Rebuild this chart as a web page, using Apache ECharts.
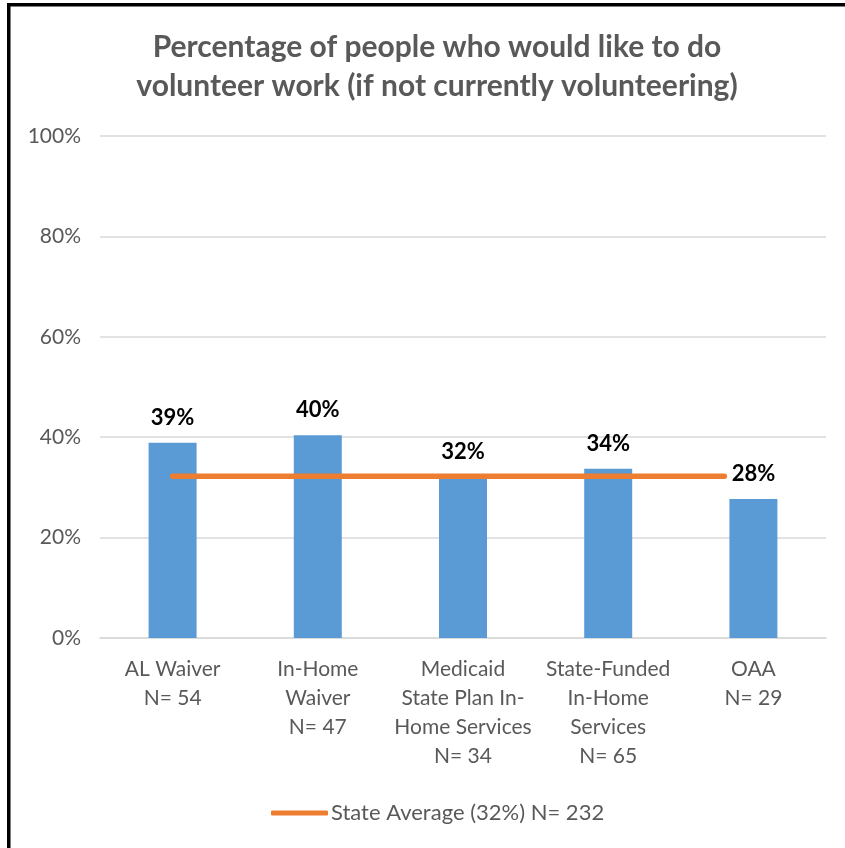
<!DOCTYPE html>
<html>
<head>
<meta charset="utf-8">
<script src="https://cdn.jsdelivr.net/npm/echarts@6/dist/echarts.min.js"></script>
<style>
html,body{margin:0;padding:0;background:#fff;}
#chart{width:845px;height:848px;}
</style>
</head>
<body>
<div id="chart"></div>
<script>
// ---- data ----
const titleText = 'Percentage of people who would like to do\nvolunteer work (if not currently volunteering)';
const categories = [
  'AL Waiver\nN= 54',
  'In-Home\nWaiver\nN= 47',
  'Medicaid\nState Plan In-\nHome Services\nN= 34',
  'State-Funded\nIn-Home\nServices\nN= 65',
  'OAA\nN= 29'
];
const pctValues = [38.9, 40.4, 32.0, 33.7, 27.7];
const stateAvgName = 'State Average (32%) N= 232';
const stateAvgValue = 32.2;
const stateAvgSpan = [0, 3.8]; // category positions where the average line starts/ends
const yTicks = [0, 20, 40, 60, 80, 100];

const FONT = 'Lato';
const GRAY = '#595959';

const chart = echarts.init(document.getElementById('chart'), null, {renderer: 'canvas'});
chart.setOption({
  animation: false,
  backgroundColor: '#fff',
  textStyle: {fontFamily: FONT},
  title: {
    text: titleText,
    left: 432,
    textAlign: 'center',
    top: 23,
    textStyle: {fontFamily: FONT, fontWeight: 'bold', fontSize: 30, lineHeight: 39, color: GRAY}
  },
  graphic: [
    {type: 'rect', shape: {x: 7, y: 3, width: 838, height: 3.5}, style: {fill: '#000'}, silent: true},
    {type: 'rect', shape: {x: 7, y: 3, width: 3.5, height: 845}, style: {fill: '#000'}, silent: true}
  ],
  legend: {
    data: [{name: stateAvgName, icon: 'roundRect'}],
    left: 266,
    top: 797,
    itemWidth: 57,
    itemHeight: 5,
    itemGap: 3,
    textStyle: {fontFamily: FONT, fontSize: 22, color: GRAY, padding: [0, 0, 0, -2]}
  },
  grid: {left: 100, right: 19, top: 136, bottom: 210, containLabel: false},
  xAxis: [
    {
      type: 'category',
      data: categories,
      axisTick: {show: false},
      axisLine: {show: true, lineStyle: {color: '#D9D9D9', width: 1.5}},
      axisLabel: {
        interval: 0, margin: 17, color: GRAY, fontFamily: FONT, fontSize: 21, lineHeight: 29, align: 'center'
      }
    },
    {
      type: 'value', min: -0.5, max: 4.5, show: false, position: 'bottom'
    }
  ],
  yAxis: {
    type: 'value', min: 0, max: 100, interval: 20,
    axisLine: {show: false}, axisTick: {show: false},
    splitLine: {lineStyle: {color: '#D9D9D9', width: 1.5}},
    axisLabel: {formatter: v => v + '%', color: GRAY, fontFamily: FONT, fontSize: 21, margin: 19}
  },
  series: [
    {
      type: 'bar',
      name: 'pct',
      data: pctValues,
      xAxisIndex: 0,
      barWidth: 48,
      itemStyle: {color: '#5B9BD5'},
      label: {
        show: true, position: 'top', distance: 14,
        formatter: p => Math.round(p.value) + '%',
        color: '#000', fontFamily: FONT, fontWeight: 'bold', fontSize: 22
      },
      z: 2
    },
    {
      type: 'line',
      name: stateAvgName,
      xAxisIndex: 1,
      data: stateAvgSpan.map(x => [x, stateAvgValue]),
      symbol: 'none',
      lineStyle: {color: '#ED7D31', width: 5.5, cap: 'round'},
      itemStyle: {color: '#ED7D31'},
      z: 3
    }
  ]
});
</script>
</body>
</html>
